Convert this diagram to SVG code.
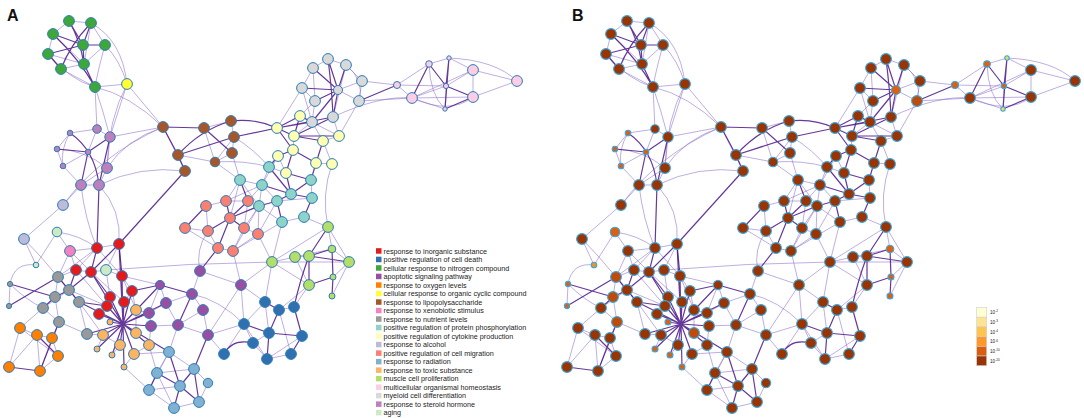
<svg xmlns="http://www.w3.org/2000/svg" xmlns:xlink="http://www.w3.org/1999/xlink" width="1084" height="418" viewBox="0 0 1084 418">
<style>
.e{fill:none;stroke:#8a6cc6;stroke-opacity:.55;stroke-width:1}
.d{fill:none;stroke:#4a1688;stroke-opacity:.85;stroke-width:1.2}
.n{stroke:#2d7db6;stroke-width:1}
.nb{stroke:#35a8e2;stroke-width:1.1}
.cr{fill:#e41a1c}.cb{fill:#2f70b0}.cg{fill:#3da73a}.cp{fill:#984ea3}.co{fill:#ff7f00}.cy{fill:#ffff33}.cbr{fill:#a65628}.cx{fill:#f781bf}.cgr{fill:#999999}.ct{fill:#8dd3c7}.cly{fill:#ffffb3}.clv{fill:#bebada}.csa{fill:#fb8072}.clb{fill:#80b1d3}.clo{fill:#fdb462}.cyg{fill:#b3de69}.clp{fill:#fccde5}.clg{fill:#d9d9d9}.cst{fill:#bc80bd}.cag{fill:#ccebc5}
.k0{fill:#993404}.k1{fill:#c04a0a}.k2{fill:#dc6010}.k3{fill:#f5901e}.k4{fill:#fed35a}
.lbl{font-family:"Liberation Sans",Arial,sans-serif;font-weight:bold;font-size:16px;fill:#111}
.lt{font-family:"Liberation Sans",Arial,sans-serif;font-size:7.2px;fill:#222}
.ct2{font-family:"Liberation Sans",Arial,sans-serif;font-size:4.6px;fill:#222}
</style>
<rect width="1084" height="418" fill="#ffffff"/>
<text class="lbl" x="7" y="21">A</text>
<text class="lbl" x="572" y="21">B</text>
<g id="connectors">
<g id="edgesA">
<g class="e">
<path d="M69 21L91 23M69 21L53 34M53 34L48 54M91 23L105 45M105 45L84 64M61 69L95 87M48 54Q70 80 95 87M91 23L84 64M53 34L84 64M105 45Q98 70 95 87M61 69L84 64M48 54L84 64M105 45Q120 60 127 84M95 87L127 84M91 23Q122 40 127 84M95 87Q130 95 163 127M127 84L163 127M95 87L97 129M95 87Q103 110 110 137M127 84L110 137M127 84Q108 120 107 168"/>
<path d="M163 127L110 137M163 127Q125 140 107 168M163 127Q100 155 63 205M163 127L185 171M204 128L231 121M231 121L234 137M234 137L232 153M234 137L215 162M232 153L215 162M204 128L215 162M178 155L215 162M232 153L240 180M215 162L240 180M215 162Q245 160 269 167M234 137Q255 150 269 167M185 171Q140 165 99 185"/>
<path d="M97 129L110 137M97 129L70 133M70 133L57 149M88 152L63 166M57 149L63 166M63 166L81 185M110 137L107 168M107 168L81 185M81 185L99 185M57 149Q85 150 107 168M97 129L88 152M70 133Q60 150 63 166M81 185Q85 220 97 248M81 185L63 205M107 168L99 185M99 185Q122 210 119 244"/>
<path d="M63 205L24 239M24 239L36 265M24 239Q40 255 58 277M57 232L36 265M57 232Q80 235 97 248M36 265Q14 262 10 284M57 232L70 251M70 251L97 248M70 251L76 270M70 251L91 272M106 270Q190 263 272 262M106 270L119 244M106 270L91 272M106 270L122 276"/>
<path d="M97 248L76 270M97 248L122 276M76 270L91 272M122 276L132 291M119 244L97 248M76 270L58 277M132 291L124 302M110 297L107 306M76 270L107 306M91 272L124 302M106 270L110 297M97 248L58 277M70 251L58 277M122 276L136 310M132 291L136 310M69 290L107 306M79 302L103 335"/>
<path d="M58 277L55 297M43 308L59 322M55 297L59 322M59 322L87 334M79 302L87 334M10 284L9 306M43 308L20 328M59 322L52 338M87 334L103 335M58 277L79 302M43 308L69 290M10 284Q26 300 43 308"/>
<path d="M20 328L37 335M37 335L52 338M20 328L9 367M52 338L40 371M58 356L40 371M37 335L40 371M20 328L58 356M52 338L58 356M9 367L37 335"/>
<path d="M136 310L136 333M103 335L97 349M120 345L112 355M134 354L124 367M149 345L134 354M103 335L120 345M149 313L136 310M151 326L149 345"/>
<path d="M160 285L166 303M200 271L192 294M200 271L241 285M166 303L149 313M192 294L203 310M149 313L151 326M203 310L178 325M151 326L178 325M178 325L208 335M203 310L208 335M208 335L244 324M241 285L265 302M241 285L244 324M241 285L208 335M178 325L169 352M208 335L224 354M192 294Q220 300 244 324M200 271Q195 250 208 231M160 285L122 276M166 303L192 294M241 285L272 262M241 285L233 251M166 303L178 325M160 285L149 313"/>
<path d="M169 352L157 373M194 369L208 383M149 390L174 408M208 383L199 402M149 390L180 386M174 408L199 402M157 373L194 369M169 352L134 354M157 373L149 345M149 390L124 367M169 352L194 369M157 373L174 408M169 352L149 390"/>
<path d="M265 302L244 324M279 310L294 307M269 333L253 343M267 359L291 354M244 324L253 343M279 310L309 285M294 307L309 285M265 302L272 262M279 310L291 354M244 324L267 359M265 302L269 333M302 336L267 359M253 343L267 359M224 354L244 324"/>
<path d="M328 227L272 262M328 227L349 262M328 227L332 249M272 262L295 257M295 257L309 256M272 262L349 262M332 249L349 262M349 262L333 277M295 257L309 285M272 262L309 285M328 227Q321 195 332 164M272 262L282 222M272 262L258 234M349 262L332 296M295 257L332 249"/>
<path d="M206 206L226 201M206 206L208 231M226 201L248 201M248 201L244 228M185 228L208 231M208 231L218 248M244 228L258 234M244 228L233 251M218 248L233 251M258 234L233 251M226 201L240 180M244 228L259 206M258 234L259 206M233 251L282 222M185 228L218 248M226 201L262 185M248 201L262 185M230 218L240 180M258 234L277 201M233 251L259 206"/>
<path d="M269 167L262 185M240 180L262 185M262 185L259 206M311 180L312 198M304 217L282 222M312 198L277 201M269 167L286 173M304 217L328 227M240 180L259 206M262 185L277 201M259 206L282 222"/>
<path d="M294 136L293 150M323 141L339 136M278 156L286 173M316 163L332 164M323 141L312 122M339 136L333 117M332 164L323 141M339 136L359 101M300 116L339 136M278 156L262 185M315 101L300 116M312 122L294 136M302 88L277 128"/>
<path d="M328 59L313 68M328 59L346 65M313 68L302 88M346 65L362 81M302 88L315 101M338 90L362 81M338 90L359 101M362 81L359 101M315 101L312 122M362 81L397 85M333 117Q380 95 412 98M359 101L412 98M346 65Q365 80 359 101M302 88L312 122M313 68L315 101M346 65L333 117"/>
<path d="M397 85L412 98M397 85L429 64M429 64L449 58M412 98L446 86M412 98L445 109M446 86L445 109M446 86L473 70M449 58L473 70M473 70L473 97M473 70L517 81M473 97L517 81M412 98L473 70M397 85L446 86M429 64Q430 95 445 109M412 98L473 97M449 58Q495 60 517 81M412 98Q450 115 473 97"/>
</g>
<g class="d">
<path d="M69 21L83 45M91 23L83 45M91 23Q70 45 61 69M53 34L83 45M83 45L105 45M48 54L83 45M83 45L84 64M84 64L95 87M53 34Q80 60 95 87M48 54L61 69M69 21Q80 40 84 64"/>
<path d="M163 127L204 128M163 127L178 155M204 128L232 153M178 155Q200 130 231 121M178 155L234 137M178 155L185 171M231 121Q255 118 277 128M234 137L277 128M185 171L119 244"/>
<path d="M110 137L88 152M70 133Q95 150 99 185M57 149L88 152M88 152L81 185M110 137L99 185M99 185L97 248"/>
<path d="M97 248L91 272M119 244L91 272M119 244L122 276M76 270L69 290M91 272L110 297M132 291L160 285"/>
<path d="M123 324L91 272M123 324L122 276M123 324L110 297M123 324L124 302M123 324L107 306M123 324L99 314M123 324L136 310M123 324L103 335M123 324L136 333M123 324L120 345M123 324L149 345M123 324L97 349M123 324L134 354M123 324L112 355M123 324L124 367M123 324L110 322M123 324L79 302M123 324L87 334M123 324L149 313M123 324L151 326M123 324L160 285M123 324L119 244M123 324L169 352M123 324L166 303M123 324L132 291"/>
<path d="M58 277L69 290M69 290L55 297M69 290L79 302M55 297L43 308M10 284L55 297M9 306L58 277M59 322L40 371M69 290L91 272M79 302L107 306M9 367L40 371M37 335L58 356"/>
<path d="M200 271L218 248M192 294L178 325M208 335L194 369M160 285L192 294"/>
<path d="M169 352L180 386M157 373L149 390M157 373L180 386M194 369L180 386M180 386L199 402M194 369L199 402M180 386L174 408"/>
<path d="M265 302L279 310M279 310L269 333M294 307L302 336M244 324L269 333M269 333L267 359M269 333L302 336M253 343Q232 338 224 354M302 336L291 354M294 307Q300 280 309 256"/>
<path d="M328 227L309 256M309 256L332 249M309 256L309 285M332 249L333 277M333 277L309 285M333 277L332 296M309 256L349 262"/>
<path d="M206 206L185 228M226 201L230 218M248 201L230 218M208 231L230 218M230 218L244 228M230 218L218 248M248 201L240 180M230 218L259 206"/>
<path d="M269 167L291 194M262 185L291 194M311 180L291 194M291 194L312 198M291 194L277 201M312 198L304 217M277 201L259 206M277 201L282 222M269 167L278 156M311 180L316 163M311 180L286 173M291 194L286 173"/>
<path d="M300 116L277 128M300 116L294 136M300 116L312 122M277 128L294 136M277 128L293 150M294 136L323 141M294 136L339 136M323 141L316 163M293 150L278 156M293 150L286 173M293 150L316 163M294 136L333 117"/>
<path d="M328 59L338 90M328 59Q332 90 333 117M346 65L338 90M302 88L338 90M338 90L315 101M338 90L312 122M338 90L333 117M313 68L338 90M333 117L277 128M312 122L277 128M359 101L397 85"/>
<path d="M429 64L446 86M429 64L412 98M449 58L446 86M449 58L445 109M446 86L473 97M445 109L473 97"/>
</g>
</g>
<use xlink:href="#edgesA" href="#edgesA" transform="translate(558,0)"/>
</g>
<g id="nodesA">
<g id="a-g1"><circle class="n cg" cx="69" cy="21" r="5.4"/></g>
<g id="a-g2"><circle class="n cg" cx="91" cy="23" r="5.4"/></g>
<g id="a-g3"><circle class="n cg" cx="53" cy="34" r="5.4"/></g>
<g id="a-g4"><circle class="n cg" cx="83" cy="45" r="5.4"/></g>
<g id="a-g5"><circle class="n cg" cx="105" cy="45" r="5.4"/></g>
<g id="a-g6"><circle class="n cg" cx="48" cy="54" r="5.4"/></g>
<g id="a-g7"><circle class="n cg" cx="84" cy="64" r="5.4"/></g>
<g id="a-g8"><circle class="n cg" cx="61" cy="69" r="5.4"/></g>
<g id="a-g9"><circle class="n cg" cx="95" cy="87" r="5.4"/></g>
<g id="a-y1"><circle class="n cy" cx="127" cy="84" r="5.4"/></g>
<g id="a-br1"><circle class="n cbr" cx="163" cy="127" r="5.4"/></g>
<g id="a-br2"><circle class="n cbr" cx="204" cy="128" r="5.4"/></g>
<g id="a-br3"><circle class="n cbr" cx="231" cy="121" r="5.4"/></g>
<g id="a-br4"><circle class="n cbr" cx="234" cy="137" r="5.4"/></g>
<g id="a-br5"><circle class="n cbr" cx="178" cy="155" r="5.4"/></g>
<g id="a-br6"><circle class="n cbr" cx="232" cy="153" r="5.4"/></g>
<g id="a-br7"><circle class="n cbr" cx="215" cy="162" r="4.8"/></g>
<g id="a-br8"><circle class="n cbr" cx="185" cy="171" r="5.4"/></g>
<g id="a-st1"><circle class="n cst" cx="97" cy="129" r="4.3"/></g>
<g id="a-st2"><circle class="n cst" cx="110" cy="137" r="5.2"/></g>
<g id="a-st3"><circle class="n cst" cx="70" cy="133" r="2.8"/></g>
<g id="a-st4"><circle class="n cst" cx="57" cy="149" r="2.8"/></g>
<g id="a-st5"><circle class="n cst" cx="88" cy="152" r="2.8"/></g>
<g id="a-st6"><circle class="n cst" cx="63" cy="166" r="2.8"/></g>
<g id="a-st7"><circle class="n cst" cx="107" cy="168" r="5.4"/></g>
<g id="a-st8"><circle class="n cst" cx="81" cy="185" r="5.4"/></g>
<g id="a-st9"><circle class="n cst" cx="99" cy="185" r="5.4"/></g>
<g id="a-lv1"><circle class="n clv" cx="63" cy="205" r="5.4"/></g>
<g id="a-lv2"><circle class="n clv" cx="24" cy="239" r="5.4"/></g>
<g id="a-ag1"><circle class="n cag" cx="57" cy="232" r="4.8"/></g>
<g id="a-ag2"><circle class="n cag" cx="36" cy="265" r="2.8"/></g>
<g id="a-ag3"><circle class="n cag" cx="106" cy="270" r="5.4"/></g>
<g id="a-xp1"><circle class="n cx" cx="70" cy="251" r="5.4"/></g>
<g id="a-r1"><circle class="n cr" cx="97" cy="248" r="5.4"/></g>
<g id="a-r2"><circle class="n cr" cx="119" cy="244" r="5.4"/></g>
<g id="a-r3"><circle class="n cr" cx="76" cy="270" r="5.4"/></g>
<g id="a-r4"><circle class="n cr" cx="91" cy="272" r="5.4"/></g>
<g id="a-r5"><circle class="n cr" cx="122" cy="276" r="5.4"/></g>
<g id="a-r6"><circle class="n cr" cx="132" cy="291" r="5.4"/></g>
<g id="a-r7"><circle class="n cr" cx="110" cy="297" r="5.4"/></g>
<g id="a-r8"><circle class="n cr" cx="124" cy="302" r="5.4"/></g>
<g id="a-r9"><circle class="n cr" cx="107" cy="306" r="5.4"/></g>
<g id="a-r10"><circle class="n cr" cx="99" cy="314" r="5.4"/></g>
<g id="a-gr1"><circle class="n cgr" cx="58" cy="277" r="5.4"/></g>
<g id="a-gr2"><circle class="n cgr" cx="69" cy="290" r="5.4"/></g>
<g id="a-gr3"><circle class="n cgr" cx="55" cy="297" r="5.4"/></g>
<g id="a-gr4"><circle class="n cgr" cx="79" cy="302" r="5.4"/></g>
<g id="a-gr5"><circle class="n cgr" cx="43" cy="308" r="5.4"/></g>
<g id="a-gr6"><circle class="n cgr" cx="59" cy="322" r="5.4"/></g>
<g id="a-gr7"><circle class="n cgr" cx="87" cy="334" r="5.4"/></g>
<g id="a-gr8"><circle class="n cgr" cx="10" cy="284" r="2.6"/></g>
<g id="a-gr9"><circle class="n cgr" cx="9" cy="306" r="2.6"/></g>
<g id="a-o1"><circle class="n co" cx="20" cy="328" r="5.4"/></g>
<g id="a-o2"><circle class="n co" cx="37" cy="335" r="5.4"/></g>
<g id="a-o3"><circle class="n co" cx="52" cy="338" r="5.4"/></g>
<g id="a-o4"><circle class="n co" cx="58" cy="356" r="5.4"/></g>
<g id="a-o5"><circle class="n co" cx="9" cy="367" r="5.4"/></g>
<g id="a-o6"><circle class="n co" cx="40" cy="371" r="5.4"/></g>
<g id="a-lo1"><circle class="n clo" cx="136" cy="310" r="5.4"/></g>
<g id="a-lo2"><circle class="n clo" cx="110" cy="322" r="3"/></g>
<g id="a-lo3"><circle class="n clo" cx="103" cy="335" r="5.4"/></g>
<g id="a-lo4"><circle class="n clo" cx="136" cy="333" r="5.4"/></g>
<g id="a-lo5"><circle class="n clo" cx="120" cy="345" r="5.4"/></g>
<g id="a-lo6"><circle class="n clo" cx="149" cy="345" r="5.4"/></g>
<g id="a-lo7"><circle class="n clo" cx="97" cy="349" r="3"/></g>
<g id="a-lo8"><circle class="n clo" cx="134" cy="354" r="5.4"/></g>
<g id="a-lo9"><circle class="n clo" cx="112" cy="355" r="3"/></g>
<g id="a-lo10"><circle class="n clo" cx="124" cy="367" r="3"/></g>
<g id="a-p1"><circle class="n cp" cx="160" cy="285" r="4.6"/></g>
<g id="a-p2"><circle class="n cp" cx="200" cy="271" r="5.4"/></g>
<g id="a-p3"><circle class="n cp" cx="166" cy="303" r="5.4"/></g>
<g id="a-p4"><circle class="n cp" cx="192" cy="294" r="5.4"/></g>
<g id="a-p5"><circle class="n cp" cx="149" cy="313" r="5.4"/></g>
<g id="a-p6"><circle class="n cp" cx="203" cy="310" r="5.4"/></g>
<g id="a-p7"><circle class="n cp" cx="151" cy="326" r="5.4"/></g>
<g id="a-p8"><circle class="n cp" cx="178" cy="325" r="5.4"/></g>
<g id="a-p9"><circle class="n cp" cx="208" cy="335" r="5.4"/></g>
<g id="a-p10"><circle class="n cp" cx="241" cy="285" r="5.4"/></g>
<g id="a-lb1"><circle class="n clb" cx="169" cy="352" r="5.4"/></g>
<g id="a-lb2"><circle class="n clb" cx="157" cy="373" r="5.4"/></g>
<g id="a-lb3"><circle class="n clb" cx="194" cy="369" r="5.4"/></g>
<g id="a-lb4"><circle class="n clb" cx="180" cy="386" r="5.4"/></g>
<g id="a-lb5"><circle class="n clb" cx="208" cy="383" r="4.7"/></g>
<g id="a-lb6"><circle class="n clb" cx="149" cy="390" r="5.4"/></g>
<g id="a-lb7"><circle class="n clb" cx="174" cy="408" r="5.4"/></g>
<g id="a-lb8"><circle class="n clb" cx="199" cy="402" r="5.4"/></g>
<g id="a-b1"><circle class="n cb" cx="265" cy="302" r="5.4"/></g>
<g id="a-b2"><circle class="n cb" cx="279" cy="310" r="5.4"/></g>
<g id="a-b3"><circle class="n cb" cx="294" cy="307" r="5.4"/></g>
<g id="a-b4"><circle class="n cb" cx="244" cy="324" r="5.4"/></g>
<g id="a-b5"><circle class="n cb" cx="269" cy="333" r="5.4"/></g>
<g id="a-b6"><circle class="n cb" cx="253" cy="343" r="5.4"/></g>
<g id="a-b7"><circle class="n cb" cx="302" cy="336" r="5.4"/></g>
<g id="a-b8"><circle class="n cb" cx="224" cy="354" r="5.4"/></g>
<g id="a-b9"><circle class="n cb" cx="267" cy="359" r="5.4"/></g>
<g id="a-b10"><circle class="n cb" cx="291" cy="354" r="5.4"/></g>
<g id="a-sa1"><circle class="n csa" cx="206" cy="206" r="5.4"/></g>
<g id="a-sa2"><circle class="n csa" cx="226" cy="201" r="5.4"/></g>
<g id="a-sa3"><circle class="n csa" cx="248" cy="201" r="5.4"/></g>
<g id="a-sa4"><circle class="n csa" cx="185" cy="228" r="5.4"/></g>
<g id="a-sa5"><circle class="n csa" cx="208" cy="231" r="5.4"/></g>
<g id="a-sa6"><circle class="n csa" cx="230" cy="218" r="5.4"/></g>
<g id="a-sa7"><circle class="n csa" cx="244" cy="228" r="5.4"/></g>
<g id="a-sa8"><circle class="n csa" cx="258" cy="234" r="5.4"/></g>
<g id="a-sa9"><circle class="n csa" cx="218" cy="248" r="5.4"/></g>
<g id="a-sa10"><circle class="n csa" cx="233" cy="251" r="5.4"/></g>
<g id="a-t1"><circle class="n ct" cx="269" cy="167" r="5.4"/></g>
<g id="a-t2"><circle class="n ct" cx="240" cy="180" r="5.4"/></g>
<g id="a-t3"><circle class="n ct" cx="262" cy="185" r="5.4"/></g>
<g id="a-t4"><circle class="n ct" cx="311" cy="180" r="5.4"/></g>
<g id="a-t5"><circle class="n ct" cx="291" cy="194" r="5.4"/></g>
<g id="a-t6"><circle class="n ct" cx="312" cy="198" r="5.4"/></g>
<g id="a-t7"><circle class="n ct" cx="277" cy="201" r="5.4"/></g>
<g id="a-t8"><circle class="n ct" cx="259" cy="206" r="5.4"/></g>
<g id="a-t9"><circle class="n ct" cx="304" cy="217" r="5.4"/></g>
<g id="a-t10"><circle class="n ct" cx="282" cy="222" r="5.4"/></g>
<g id="a-ly1"><circle class="n cly" cx="300" cy="116" r="5.4"/></g>
<g id="a-ly2"><circle class="n cly" cx="277" cy="128" r="5.4"/></g>
<g id="a-ly3"><circle class="n cly" cx="294" cy="136" r="5.4"/></g>
<g id="a-ly4"><circle class="n cly" cx="323" cy="141" r="5.4"/></g>
<g id="a-ly5"><circle class="n cly" cx="339" cy="136" r="5.4"/></g>
<g id="a-ly6"><circle class="n cly" cx="293" cy="150" r="5.4"/></g>
<g id="a-ly7"><circle class="n cly" cx="278" cy="156" r="5.4"/></g>
<g id="a-ly8"><circle class="n cly" cx="316" cy="163" r="5.4"/></g>
<g id="a-ly9"><circle class="n cly" cx="332" cy="164" r="5.4"/></g>
<g id="a-ly10"><circle class="n cly" cx="286" cy="173" r="5.4"/></g>
<g id="a-yg1"><circle class="n cyg" cx="328" cy="227" r="5.4"/></g>
<g id="a-yg2"><circle class="n cyg" cx="272" cy="262" r="5.4"/></g>
<g id="a-yg3"><circle class="n cyg" cx="295" cy="257" r="5.4"/></g>
<g id="a-yg4"><circle class="n cyg" cx="309" cy="256" r="5.4"/></g>
<g id="a-yg5"><circle class="n cyg" cx="332" cy="249" r="3.8"/></g>
<g id="a-yg6"><circle class="n cyg" cx="349" cy="262" r="5.4"/></g>
<g id="a-yg7"><circle class="n cyg" cx="333" cy="277" r="3"/></g>
<g id="a-yg8"><circle class="n cyg" cx="309" cy="285" r="5.4"/></g>
<g id="a-yg9"><circle class="n cyg" cx="332" cy="296" r="3"/></g>
<g id="a-m1"><circle class="n clg" cx="328" cy="59" r="5.4"/></g>
<g id="a-m2"><circle class="n clg" cx="313" cy="68" r="5.4"/></g>
<g id="a-m3"><circle class="n clg" cx="346" cy="65" r="5.4"/></g>
<g id="a-m4"><circle class="n clg" cx="362" cy="81" r="5.4"/></g>
<g id="a-m5"><circle class="n clg" cx="302" cy="88" r="5.4"/></g>
<g id="a-m6"><circle class="n clg" cx="338" cy="90" r="4.5"/></g>
<g id="a-m7"><circle class="n clg" cx="315" cy="101" r="5.4"/></g>
<g id="a-m8"><circle class="n clg" cx="359" cy="101" r="5.4"/></g>
<g id="a-m9"><circle class="n clg" cx="312" cy="122" r="5.4"/></g>
<g id="a-m10"><circle class="n clg" cx="333" cy="117" r="5.4"/></g>
<g id="a-lp1"><circle class="n clp" cx="397" cy="85" r="3.5"/></g>
<g id="a-lp2"><circle class="n clp" cx="429" cy="64" r="3.3"/></g>
<g id="a-lp3"><circle class="n clp" cx="449" cy="58" r="2.2"/></g>
<g id="a-lp4"><circle class="n clp" cx="412" cy="98" r="5.4"/></g>
<g id="a-lp5"><circle class="n clp" cx="446" cy="86" r="2.6"/></g>
<g id="a-lp6"><circle class="n clp" cx="445" cy="109" r="2.2"/></g>
<g id="a-lp7"><circle class="n clp" cx="473" cy="70" r="5.4"/></g>
<g id="a-lp8"><circle class="n clp" cx="473" cy="97" r="5.4"/></g>
<g id="a-lp9"><circle class="n clp" cx="517" cy="81" r="5.4"/></g>
</g>
<g id="nodesB" transform="translate(558,0)">
<g id="b-g1"><circle class="nb k0" cx="69" cy="21" r="5.4"/></g>
<g id="b-g2"><circle class="nb k0" cx="91" cy="23" r="5.4"/></g>
<g id="b-g3"><circle class="nb k0" cx="53" cy="34" r="5.4"/></g>
<g id="b-g4"><circle class="nb k0" cx="83" cy="45" r="5.4"/></g>
<g id="b-g5"><circle class="nb k0" cx="105" cy="45" r="5.4"/></g>
<g id="b-g6"><circle class="nb k0" cx="48" cy="54" r="5.4"/></g>
<g id="b-g7"><circle class="nb k0" cx="84" cy="64" r="5.4"/></g>
<g id="b-g8"><circle class="nb k0" cx="61" cy="69" r="5.4"/></g>
<g id="b-g9"><circle class="nb k0" cx="95" cy="87" r="5.4"/></g>
<g id="b-y1"><circle class="nb k0" cx="127" cy="84" r="5.4"/></g>
<g id="b-br1"><circle class="nb k0" cx="163" cy="127" r="5.4"/></g>
<g id="b-br2"><circle class="nb k0" cx="204" cy="128" r="5.4"/></g>
<g id="b-br3"><circle class="nb k0" cx="231" cy="121" r="5.4"/></g>
<g id="b-br4"><circle class="nb k0" cx="234" cy="137" r="5.4"/></g>
<g id="b-br5"><circle class="nb k0" cx="178" cy="155" r="5.4"/></g>
<g id="b-br6"><circle class="nb k0" cx="232" cy="153" r="5.4"/></g>
<g id="b-br7"><circle class="nb k0" cx="215" cy="162" r="4.8"/></g>
<g id="b-br8"><circle class="nb k0" cx="185" cy="171" r="5.4"/></g>
<g id="b-st1"><circle class="nb k0" cx="97" cy="129" r="4.3"/></g>
<g id="b-st2"><circle class="nb k0" cx="110" cy="137" r="5.2"/></g>
<g id="b-st3"><circle class="nb k2" cx="70" cy="133" r="2.8"/></g>
<g id="b-st4"><circle class="nb k2" cx="57" cy="149" r="2.8"/></g>
<g id="b-st5"><circle class="nb k2" cx="88" cy="152" r="2.8"/></g>
<g id="b-st6"><circle class="nb k2" cx="63" cy="166" r="2.8"/></g>
<g id="b-st7"><circle class="nb k0" cx="107" cy="168" r="5.4"/></g>
<g id="b-st8"><circle class="nb k0" cx="81" cy="185" r="5.4"/></g>
<g id="b-st9"><circle class="nb k0" cx="99" cy="185" r="5.4"/></g>
<g id="b-lv1"><circle class="nb k0" cx="63" cy="205" r="5.4"/></g>
<g id="b-lv2"><circle class="nb k0" cx="24" cy="239" r="5.4"/></g>
<g id="b-ag1"><circle class="nb k2" cx="57" cy="232" r="4.8"/></g>
<g id="b-ag2"><circle class="nb k3" cx="36" cy="265" r="2.8"/></g>
<g id="b-ag3"><circle class="nb k0" cx="106" cy="270" r="5.4"/></g>
<g id="b-xp1"><circle class="nb k0" cx="70" cy="251" r="5.4"/></g>
<g id="b-r1"><circle class="nb k0" cx="97" cy="248" r="5.4"/></g>
<g id="b-r2"><circle class="nb k0" cx="119" cy="244" r="5.4"/></g>
<g id="b-r3"><circle class="nb k0" cx="76" cy="270" r="5.4"/></g>
<g id="b-r4"><circle class="nb k0" cx="91" cy="272" r="5.4"/></g>
<g id="b-r5"><circle class="nb k0" cx="122" cy="276" r="5.4"/></g>
<g id="b-r6"><circle class="nb k0" cx="132" cy="291" r="5.4"/></g>
<g id="b-r7"><circle class="nb k0" cx="110" cy="297" r="5.4"/></g>
<g id="b-r8"><circle class="nb k0" cx="124" cy="302" r="5.4"/></g>
<g id="b-r9"><circle class="nb k0" cx="107" cy="306" r="5.4"/></g>
<g id="b-r10"><circle class="nb k0" cx="99" cy="314" r="5.4"/></g>
<g id="b-gr1"><circle class="nb k1" cx="58" cy="277" r="5.4"/></g>
<g id="b-gr2"><circle class="nb k0" cx="69" cy="290" r="5.4"/></g>
<g id="b-gr3"><circle class="nb k1" cx="55" cy="297" r="5.4"/></g>
<g id="b-gr4"><circle class="nb k0" cx="79" cy="302" r="5.4"/></g>
<g id="b-gr5"><circle class="nb k0" cx="43" cy="308" r="5.4"/></g>
<g id="b-gr6"><circle class="nb k1" cx="59" cy="322" r="5.4"/></g>
<g id="b-gr7"><circle class="nb k0" cx="87" cy="334" r="5.4"/></g>
<g id="b-gr8"><circle class="nb k2" cx="10" cy="284" r="2.6"/></g>
<g id="b-gr9"><circle class="nb k2" cx="9" cy="306" r="2.6"/></g>
<g id="b-o1"><circle class="nb k0" cx="20" cy="328" r="5.4"/></g>
<g id="b-o2"><circle class="nb k0" cx="37" cy="335" r="5.4"/></g>
<g id="b-o3"><circle class="nb k0" cx="52" cy="338" r="5.4"/></g>
<g id="b-o4"><circle class="nb k0" cx="58" cy="356" r="5.4"/></g>
<g id="b-o5"><circle class="nb k0" cx="9" cy="367" r="5.4"/></g>
<g id="b-o6"><circle class="nb k0" cx="40" cy="371" r="5.4"/></g>
<g id="b-lo1"><circle class="nb k0" cx="136" cy="310" r="5.4"/></g>
<g id="b-lo2"><circle class="nb k2" cx="110" cy="322" r="3"/></g>
<g id="b-lo3"><circle class="nb k0" cx="103" cy="335" r="5.4"/></g>
<g id="b-lo4"><circle class="nb k1" cx="136" cy="333" r="5.4"/></g>
<g id="b-lo5"><circle class="nb k0" cx="120" cy="345" r="5.4"/></g>
<g id="b-lo6"><circle class="nb k0" cx="149" cy="345" r="5.4"/></g>
<g id="b-lo7"><circle class="nb k2" cx="97" cy="349" r="3"/></g>
<g id="b-lo8"><circle class="nb k0" cx="134" cy="354" r="5.4"/></g>
<g id="b-lo9"><circle class="nb k2" cx="112" cy="355" r="3"/></g>
<g id="b-lo10"><circle class="nb k2" cx="124" cy="367" r="3"/></g>
<g id="b-p1"><circle class="nb k0" cx="160" cy="285" r="4.6"/></g>
<g id="b-p2"><circle class="nb k0" cx="200" cy="271" r="5.4"/></g>
<g id="b-p3"><circle class="nb k0" cx="166" cy="303" r="5.4"/></g>
<g id="b-p4"><circle class="nb k0" cx="192" cy="294" r="5.4"/></g>
<g id="b-p5"><circle class="nb k0" cx="149" cy="313" r="5.4"/></g>
<g id="b-p6"><circle class="nb k0" cx="203" cy="310" r="5.4"/></g>
<g id="b-p7"><circle class="nb k0" cx="151" cy="326" r="5.4"/></g>
<g id="b-p8"><circle class="nb k0" cx="178" cy="325" r="5.4"/></g>
<g id="b-p9"><circle class="nb k0" cx="208" cy="335" r="5.4"/></g>
<g id="b-p10"><circle class="nb k0" cx="241" cy="285" r="5.4"/></g>
<g id="b-lb1"><circle class="nb k0" cx="169" cy="352" r="5.4"/></g>
<g id="b-lb2"><circle class="nb k0" cx="157" cy="373" r="5.4"/></g>
<g id="b-lb3"><circle class="nb k0" cx="194" cy="369" r="5.4"/></g>
<g id="b-lb4"><circle class="nb k0" cx="180" cy="386" r="5.4"/></g>
<g id="b-lb5"><circle class="nb k0" cx="208" cy="383" r="4.7"/></g>
<g id="b-lb6"><circle class="nb k0" cx="149" cy="390" r="5.4"/></g>
<g id="b-lb7"><circle class="nb k0" cx="174" cy="408" r="5.4"/></g>
<g id="b-lb8"><circle class="nb k0" cx="199" cy="402" r="5.4"/></g>
<g id="b-b1"><circle class="nb k0" cx="265" cy="302" r="5.4"/></g>
<g id="b-b2"><circle class="nb k0" cx="279" cy="310" r="5.4"/></g>
<g id="b-b3"><circle class="nb k0" cx="294" cy="307" r="5.4"/></g>
<g id="b-b4"><circle class="nb k0" cx="244" cy="324" r="5.4"/></g>
<g id="b-b5"><circle class="nb k0" cx="269" cy="333" r="5.4"/></g>
<g id="b-b6"><circle class="nb k0" cx="253" cy="343" r="5.4"/></g>
<g id="b-b7"><circle class="nb k0" cx="302" cy="336" r="5.4"/></g>
<g id="b-b8"><circle class="nb k0" cx="224" cy="354" r="5.4"/></g>
<g id="b-b9"><circle class="nb k0" cx="267" cy="359" r="5.4"/></g>
<g id="b-b10"><circle class="nb k0" cx="291" cy="354" r="5.4"/></g>
<g id="b-sa1"><circle class="nb k0" cx="206" cy="206" r="5.4"/></g>
<g id="b-sa2"><circle class="nb k0" cx="226" cy="201" r="5.4"/></g>
<g id="b-sa3"><circle class="nb k0" cx="248" cy="201" r="5.4"/></g>
<g id="b-sa4"><circle class="nb k0" cx="185" cy="228" r="5.4"/></g>
<g id="b-sa5"><circle class="nb k0" cx="208" cy="231" r="5.4"/></g>
<g id="b-sa6"><circle class="nb k0" cx="230" cy="218" r="5.4"/></g>
<g id="b-sa7"><circle class="nb k0" cx="244" cy="228" r="5.4"/></g>
<g id="b-sa8"><circle class="nb k0" cx="258" cy="234" r="5.4"/></g>
<g id="b-sa9"><circle class="nb k0" cx="218" cy="248" r="5.4"/></g>
<g id="b-sa10"><circle class="nb k0" cx="233" cy="251" r="5.4"/></g>
<g id="b-t1"><circle class="nb k0" cx="269" cy="167" r="5.4"/></g>
<g id="b-t2"><circle class="nb k0" cx="240" cy="180" r="5.4"/></g>
<g id="b-t3"><circle class="nb k0" cx="262" cy="185" r="5.4"/></g>
<g id="b-t4"><circle class="nb k0" cx="311" cy="180" r="5.4"/></g>
<g id="b-t5"><circle class="nb k0" cx="291" cy="194" r="5.4"/></g>
<g id="b-t6"><circle class="nb k0" cx="312" cy="198" r="5.4"/></g>
<g id="b-t7"><circle class="nb k0" cx="277" cy="201" r="5.4"/></g>
<g id="b-t8"><circle class="nb k0" cx="259" cy="206" r="5.4"/></g>
<g id="b-t9"><circle class="nb k0" cx="304" cy="217" r="5.4"/></g>
<g id="b-t10"><circle class="nb k0" cx="282" cy="222" r="5.4"/></g>
<g id="b-ly1"><circle class="nb k0" cx="300" cy="116" r="5.4"/></g>
<g id="b-ly2"><circle class="nb k0" cx="277" cy="128" r="5.4"/></g>
<g id="b-ly3"><circle class="nb k0" cx="294" cy="136" r="5.4"/></g>
<g id="b-ly4"><circle class="nb k0" cx="323" cy="141" r="5.4"/></g>
<g id="b-ly5"><circle class="nb k0" cx="339" cy="136" r="5.4"/></g>
<g id="b-ly6"><circle class="nb k0" cx="293" cy="150" r="5.4"/></g>
<g id="b-ly7"><circle class="nb k0" cx="278" cy="156" r="5.4"/></g>
<g id="b-ly8"><circle class="nb k0" cx="316" cy="163" r="5.4"/></g>
<g id="b-ly9"><circle class="nb k0" cx="332" cy="164" r="5.4"/></g>
<g id="b-ly10"><circle class="nb k0" cx="286" cy="173" r="5.4"/></g>
<g id="b-yg1"><circle class="nb k0" cx="328" cy="227" r="5.4"/></g>
<g id="b-yg2"><circle class="nb k0" cx="272" cy="262" r="5.4"/></g>
<g id="b-yg3"><circle class="nb k0" cx="295" cy="257" r="5.4"/></g>
<g id="b-yg4"><circle class="nb k0" cx="309" cy="256" r="5.4"/></g>
<g id="b-yg5"><circle class="nb k2" cx="332" cy="249" r="3.8"/></g>
<g id="b-yg6"><circle class="nb k0" cx="349" cy="262" r="5.4"/></g>
<g id="b-yg7"><circle class="nb k2" cx="333" cy="277" r="3"/></g>
<g id="b-yg8"><circle class="nb k0" cx="309" cy="285" r="5.4"/></g>
<g id="b-yg9"><circle class="nb k2" cx="332" cy="296" r="3"/></g>
<g id="b-m1"><circle class="nb k0" cx="328" cy="59" r="5.4"/></g>
<g id="b-m2"><circle class="nb k0" cx="313" cy="68" r="5.4"/></g>
<g id="b-m3"><circle class="nb k0" cx="346" cy="65" r="5.4"/></g>
<g id="b-m4"><circle class="nb k0" cx="362" cy="81" r="5.4"/></g>
<g id="b-m5"><circle class="nb k0" cx="302" cy="88" r="5.4"/></g>
<g id="b-m6"><circle class="nb k2" cx="338" cy="90" r="4.5"/></g>
<g id="b-m7"><circle class="nb k0" cx="315" cy="101" r="5.4"/></g>
<g id="b-m8"><circle class="nb k1" cx="359" cy="101" r="5.4"/></g>
<g id="b-m9"><circle class="nb k0" cx="312" cy="122" r="5.4"/></g>
<g id="b-m10"><circle class="nb k0" cx="333" cy="117" r="5.4"/></g>
<g id="b-lp1"><circle class="nb k2" cx="397" cy="85" r="3.5"/></g>
<g id="b-lp2"><circle class="nb k2" cx="429" cy="64" r="3.3"/></g>
<g id="b-lp3"><circle class="nb k4" cx="449" cy="58" r="2.2"/></g>
<g id="b-lp4"><circle class="nb k0" cx="412" cy="98" r="5.4"/></g>
<g id="b-lp5"><circle class="nb k2" cx="446" cy="86" r="2.6"/></g>
<g id="b-lp6"><circle class="nb k4" cx="445" cy="109" r="2.2"/></g>
<g id="b-lp7"><circle class="nb k0" cx="473" cy="70" r="5.4"/></g>
<g id="b-lp8"><circle class="nb k0" cx="473" cy="97" r="5.4"/></g>
<g id="b-lp9"><circle class="nb k0" cx="517" cy="81" r="5.4"/></g>
</g>
<g id="legendA">
<rect class="cr" x="376" y="248.2" width="5.5" height="5.5"/><text class="lt" x="383.5" y="253.5">response to inorganic substance</text>
<rect class="cb" x="376" y="256.7" width="5.5" height="5.5"/><text class="lt" x="383.5" y="262">positive regulation of cell death</text>
<rect class="cg" x="376" y="265.2" width="5.5" height="5.5"/><text class="lt" x="383.5" y="270.5">cellular response to nitrogen compound</text>
<rect class="cp" x="376" y="273.7" width="5.5" height="5.5"/><text class="lt" x="383.5" y="279">apoptotic signaling pathway</text>
<rect class="co" x="376" y="282.3" width="5.5" height="5.5"/><text class="lt" x="383.5" y="287.6">response to oxygen levels</text>
<rect class="cy" x="376" y="290.8" width="5.5" height="5.5"/><text class="lt" x="383.5" y="296.1">cellular response to organic cyclic compound</text>
<rect class="cbr" x="376" y="299.3" width="5.5" height="5.5"/><text class="lt" x="383.5" y="304.6">response to lipopolysaccharide</text>
<rect class="cx" x="376" y="307.8" width="5.5" height="5.5"/><text class="lt" x="383.5" y="313.1">response to xenobiotic stimulus</text>
<rect class="cgr" x="376" y="316.3" width="5.5" height="5.5"/><text class="lt" x="383.5" y="321.6">response to nutrient levels</text>
<rect class="ct" x="376" y="324.8" width="5.5" height="5.5"/><text class="lt" x="383.5" y="330.1">positive regulation of protein phosphorylation</text>
<rect class="cly" x="376" y="333.3" width="5.5" height="5.5"/><text class="lt" x="383.5" y="338.6">positive regulation of cytokine production</text>
<rect class="clv" x="376" y="341.8" width="5.5" height="5.5"/><text class="lt" x="383.5" y="347.1">response to alcohol</text>
<rect class="csa" x="376" y="350.4" width="5.5" height="5.5"/><text class="lt" x="383.5" y="355.7">positive regulation of cell migration</text>
<rect class="clb" x="376" y="358.9" width="5.5" height="5.5"/><text class="lt" x="383.5" y="364.2">response to radiation</text>
<rect class="clo" x="376" y="367.4" width="5.5" height="5.5"/><text class="lt" x="383.5" y="372.7">response to toxic substance</text>
<rect class="cyg" x="376" y="375.9" width="5.5" height="5.5"/><text class="lt" x="383.5" y="381.2">muscle cell proliferation</text>
<rect class="clp" x="376" y="384.4" width="5.5" height="5.5"/><text class="lt" x="383.5" y="389.7">multicellular organismal homeostasis</text>
<rect class="clg" x="376" y="392.9" width="5.5" height="5.5"/><text class="lt" x="383.5" y="398.2">myeloid cell differentiation</text>
<rect class="cst" x="376" y="401.4" width="5.5" height="5.5"/><text class="lt" x="383.5" y="406.7">response to steroid hormone</text>
<rect class="cag" x="376" y="409.9" width="5.5" height="5.5"/><text class="lt" x="383.5" y="415.2">aging</text>
</g>
<g id="legendB">
<g stroke="#cfcfcf" stroke-width="0.6">
<rect x="976.7" y="307.5" width="10" height="9.7" fill="#ffffd4"/>
<rect x="976.7" y="317.2" width="10" height="9.7" fill="#fee391"/>
<rect x="976.7" y="326.9" width="10" height="9.7" fill="#fec44f"/>
<rect x="976.7" y="336.6" width="10" height="9.7" fill="#fe9929"/>
<rect x="976.7" y="346.3" width="10" height="9.7" fill="#d95f0e"/>
<rect x="976.7" y="356" width="10" height="9.7" fill="#993404"/>
</g>
<text class="ct2" x="990" y="314.2">10<tspan dy="-1.8" font-size="3.2">-2</tspan></text>
<text class="ct2" x="990" y="323.9">10<tspan dy="-1.8" font-size="3.2">-3</tspan></text>
<text class="ct2" x="990" y="333.6">10<tspan dy="-1.8" font-size="3.2">-4</tspan></text>
<text class="ct2" x="990" y="343.3">10<tspan dy="-1.8" font-size="3.2">-6</tspan></text>
<text class="ct2" x="990" y="353">10<tspan dy="-1.8" font-size="3.2">-10</tspan></text>
<text class="ct2" x="990" y="362.7">10<tspan dy="-1.8" font-size="3.2">-20</tspan></text>
</g>
</svg>
